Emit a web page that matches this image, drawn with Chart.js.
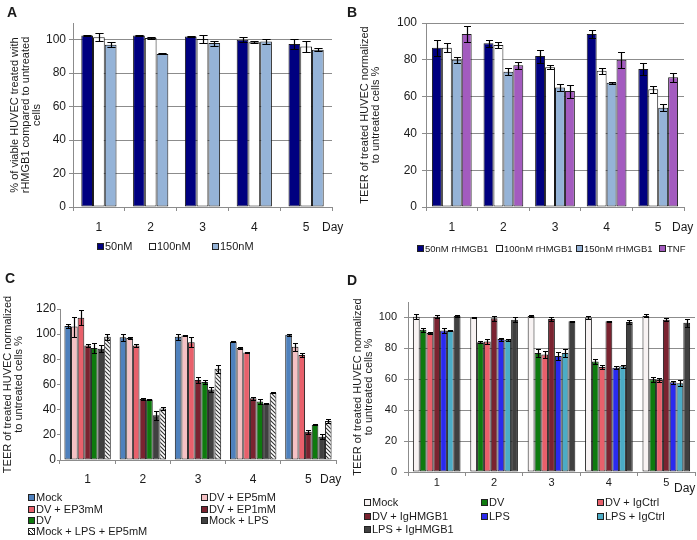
<!DOCTYPE html>
<html>
<head>
<meta charset="utf-8">
<script src="https://cdn.jsdelivr.net/npm/chart.js@4.4.0/dist/chart.umd.min.js"></script>
<style>
body{margin:0;background:#fff;font-family:'Liberation Sans',Arial,sans-serif;color:#1a1a1a}
#page{position:relative;width:697px;height:540px;overflow:hidden}
canvas{position:absolute}
.lbl{position:absolute;font-weight:bold;font-size:14px;line-height:14px}
.day{position:absolute;font-size:12px;line-height:14px}
.leg{position:absolute;font-size:11px;line-height:12px;white-space:nowrap}
.leg i{display:inline-block;width:5px;height:5px;border:1px solid #222;margin-right:1px;vertical-align:0px}
</style>
</head>
<body>
<div id="page">
  <canvas id="chA" width="345" height="270" style="left:0;top:0"></canvas>
  <canvas id="chB" width="352" height="270" style="left:345px;top:0"></canvas>
  <canvas id="chC" width="345" height="270" style="left:0;top:270px"></canvas>
  <canvas id="chD" width="352" height="270" style="left:345px;top:270px"></canvas>
</div>
<script>
// days on the x axis
var days = ['1', '2', '3', '4', '5'];

// A - viability
var viab50 = [102.5, 102.5, 102, 100, 97.5];
var viab50Err = [0.5, 0.5, 0.3, 1.5, 3];
var viab100 = [101.5, 101, 100.5, 98.5, 96];
var viab100Err = [2.5, 0.5, 2.5, 0.5, 3.5];
var viab150 = [97, 91.5, 98, 99, 94];
var viab150Err = [1.5, 0.3, 1.5, 1.5, 1];

// B - TEER with rHMGB1 / TNF
var teer50 = [86.5, 89, 82, 94, 75];
var teer50Err = [4.5, 2, 3.5, 2, 3.5];
var teer100 = [86.5, 88, 76, 74, 64];
var teer100Err = [2.5, 1.5, 1, 1.5, 2];
var teer150 = [80, 73.5, 65, 67.5, 54];
var teer150Err = [1.5, 2, 2, 0.5, 2];
var teerTnf = [94, 77, 63, 80, 70.5];
var teerTnfErr = [4.5, 2, 3.5, 4.5, 2.5];

// C - EP treatment
var cMock = [106.5, 97.5, 98, 94, 99.5];
var cMockErr = [1.5, 3, 2.5, 0.5, 1];
var cEp5 = [106, 97, 99, 89, 90];
var cEp5Err = [8, 1, 0.5, 1, 3];
var cEp3 = [113, 91, 93.5, 85.5, 83.5];
var cEp3Err = [6, 1.5, 4, 0.5, 1.5];
var cEp1 = [91, 48.5, 63.5, 49, 22.5];
var cEp1Err = [1.5, 1, 2.5, 1, 1.5];
var cDv = [89, 48, 62, 46.5, 28];
var cDvErr = [4, 0.5, 1.5, 2, 0.5];
var cLps = [88.5, 35.5, 56, 45, 18.5];
var cLpsErr = [2.5, 3.5, 2, 0.5, 2];
var cLpsEp5 = [98, 41, 72.5, 53.5, 31];
var cLpsEp5Err = [2.5, 1, 3, 0.5, 1.5];

// D - antibodies
var dMock = [100.5, 100, 101, 100, 101];
var dMockErr = [1.5, 0.3, 0.5, 1, 1];
var dDv = [92, 84, 77, 71.5, 60];
var dDvErr = [1.5, 0.5, 2.5, 1.5, 1.5];
var dDvIgC = [90, 84.5, 76, 68, 59.5];
var dDvIgCErr = [0.5, 1.5, 2, 1.5, 1];
var dDvIgH = [100.5, 99.5, 99, 97.5, 98.5];
var dDvIgHErr = [1, 1.5, 1.5, 0.5, 1];
var dLps = [91.5, 86, 75, 67.5, 58];
var dLpsErr = [1.5, 1, 2.5, 1, 1];
var dLpsIgC = [91.5, 85.5, 77, 68.5, 57.5];
var dLpsIgCErr = [0.5, 0.5, 2.5, 1, 2];
var dLpsIgH = [101, 98.5, 97.5, 97, 96.5];
var dLpsIgHErr = [0.5, 1.5, 0.5, 1.5, 2.5];

Chart.defaults.font.family = "'Liberation Sans', Arial, sans-serif";
Chart.defaults.color = '#1a1a1a';

function hatchPattern() {
  var c = document.createElement('canvas');
  c.width = 4; c.height = 4;
  var g = c.getContext('2d');
  g.fillStyle = '#fff';
  g.fillRect(0, 0, 4, 4);
  g.strokeStyle = '#333';
  g.lineWidth = 1.1;
  g.beginPath();
  g.moveTo(0, 0); g.lineTo(4, 4);
  g.moveTo(-1, 3); g.lineTo(1, 5);
  g.moveTo(3, -1); g.lineTo(5, 1);
  g.stroke();
  return g.createPattern(c, 'repeat');
}
var hatch = hatchPattern();
var hatchCss = 'repeating-linear-gradient(45deg,#333 0 1px,#fff 1px 2.5px)';

// error bars drawn from the y scale
var errorBars = {
  id: 'errorBars',
  afterDatasetsDraw: function(chart) {
    var ctx = chart.ctx;
    var ys = chart.scales.y;
    chart.data.datasets.forEach(function(ds, i) {
      if (!ds.errors) return;
      var meta = chart.getDatasetMeta(i);
      meta.data.forEach(function(bar, j) {
        var v = ds.data[j], e = ds.errors[j];
        var top = Math.round(ys.getPixelForValue(v + e)) + 0.5;
        var bot = Math.round(ys.getPixelForValue(v - e)) + 0.5;
        var x = Math.round(bar.x) + 0.5;
        var cap = Math.max(2.5, bar.width * 0.35);
        ctx.save();
        ctx.strokeStyle = '#000';
        ctx.lineWidth = 1.2;
        ctx.beginPath();
        ctx.moveTo(x, top); ctx.lineTo(x, bot);
        ctx.moveTo(x - cap, top); ctx.lineTo(x + cap, top);
        ctx.moveTo(x - cap, bot); ctx.lineTo(x + cap, bot);
        ctx.stroke();
        ctx.restore();
      });
    });
  }
};

function ds(label, data, errors, color) {
  return {label: label, data: data, errors: errors, backgroundColor: color};
}

function makeChart(cfg) {
  var canvas = document.getElementById(cfg.id);
  var W = canvas.width, H = canvas.height;
  return new Chart(canvas, {
    type: 'bar',
    data: {labels: days, datasets: cfg.datasets},
    plugins: [errorBars],
    options: {
      responsive: false,
      animation: false,
      layout: {padding: {left: 0, top: cfg.area.top, right: W - cfg.area.right, bottom: 0}},
      datasets: {bar: {categoryPercentage: cfg.cp, barPercentage: 1, borderWidth: 1, borderColor: '#1a1a1a', borderSkipped: false}},
      plugins: {legend: {display: false}, tooltip: {enabled: false}},
      scales: {
        x: {
          grid: {offset: true, drawOnChartArea: false, tickLength: 4, color: '#8c8c8c'},
          border: {color: '#8c8c8c'},
          ticks: {font: {size: cfg.tickSize}, padding: cfg.xPad, maxRotation: 0},
          afterFit: function(s) { s.height = H - cfg.area.bottom; }
        },
        y: {
          min: 0,
          max: cfg.yMax,
          afterBuildTicks: function(s) { s.ticks = s.ticks.filter(function(t) { return t.value % 20 === 0; }); },
          ticks: {stepSize: 20, font: {size: cfg.tickSize}, padding: cfg.yPad},
          grid: {drawOnChartArea: cfg.grid, tickLength: cfg.yTick, color: '#8c8c8c'},
          border: {color: '#8c8c8c'},
          title: {display: true, text: cfg.title, font: {size: 11, lineHeight: 1}, padding: {top: cfg.titlePad, bottom: 0}},
          afterFit: function(s) { s.width = cfg.area.left; }
        }
      }
    }
  });
}

makeChart({
  id: 'chA', area: {left: 73, right: 332, top: 23, bottom: 207}, yMax: 110, cp: 0.68,
  tickSize: 12, xPad: 9, yPad: 3, yTick: 4, grid: true, titlePad: 9.5,
  title: ['% of viable HUVEC treated with', 'rHMGB1 compared to untreated', 'cells'],
  datasets: [
    ds('50nM', viab50, viab50Err, '#000080'),
    ds('100nM', viab100, viab100Err, '#ffffff'),
    ds('150nM', viab150, viab150Err, '#95b3d7')
  ]
});

makeChart({
  id: 'chB', area: {left: 81, right: 339, top: 23, bottom: 207}, yMax: 100, cp: 0.77,
  tickSize: 12, xPad: 9, yPad: 5, yTick: 4, grid: true, titlePad: 14.5,
  title: ['TEER of treated HUVEC normalized', 'to untreated cells %'],
  datasets: [
    ds('50nM rHMGB1', teer50, teer50Err, '#000080'),
    ds('100nM rHMGB1', teer100, teer100Err, '#ffffff'),
    ds('150nM rHMGB1', teer150, teer150Err, '#95b3d7'),
    ds('TNF', teerTnf, teerTnfErr, '#a35bbf')
  ]
});

makeChart({
  id: 'chC', area: {left: 60, right: 336, top: 39, bottom: 190}, yMax: 120, cp: 0.84,
  tickSize: 12, xPad: 8, yPad: 1, yTick: 3, grid: false, titlePad: 2.5,
  title: ['TEER of treated HUVEC normalized', 'to untreated cells %'],
  datasets: [
    ds('Mock', cMock, cMockErr, '#4f81bd'),
    ds('DV + EP5mM', cEp5, cEp5Err, '#f5c1c4'),
    ds('DV + EP3mM', cEp3, cEp3Err, '#e8606b'),
    ds('DV + EP1mM', cEp1, cEp1Err, '#7a2330'),
    ds('DV', cDv, cDvErr, '#0e7a0e'),
    ds('Mock + LPS', cLps, cLpsErr, '#404040'),
    ds('Mock + LPS + EP5mM', cLpsEp5, cLpsEp5Err, hatch)
  ]
});

makeChart({
  id: 'chD', area: {left: 63, right: 350, top: 32, bottom: 202}, yMax: 110, cp: 0.83,
  tickSize: 11, xPad: 0, yPad: 7, yTick: 4, grid: true, titlePad: 7.5,
  title: ['TEER of treated HUVEC normalized', 'to untreated cells %'],
  datasets: [
    ds('Mock', dMock, dMockErr, '#f8f3f3'),
    ds('DV', dDv, dDvErr, '#0e7a0e'),
    ds('DV + IgCtrl', dDvIgC, dDvIgCErr, '#e8606b'),
    ds('DV + IgHMGB1', dDvIgH, dDvIgHErr, '#7a2330'),
    ds('LPS', dLps, dLpsErr, '#2a2aee'),
    ds('LPS + IgCtrl', dLpsIgC, dLpsIgCErr, '#4bacc6'),
    ds('LPS + IgHMGB1', dLpsIgH, dLpsIgHErr, '#404040')
  ]
});

// html labels, "Day" and legends
var page = document.getElementById('page');
function addDiv(cls, x, y, html, size) {
  var d = document.createElement('div');
  d.className = cls;
  d.style.left = x + 'px';
  d.style.top = y + 'px';
  if (size) d.style.fontSize = size + 'px';
  d.innerHTML = html;
  page.appendChild(d);
}
addDiv('lbl', 7, 5, 'A');
addDiv('lbl', 347, 5, 'B');
addDiv('lbl', 5, 271, 'C');
addDiv('lbl', 347, 273, 'D');
addDiv('day', 322, 220, 'Day');
addDiv('day', 672, 220, 'Day');
addDiv('day', 320, 472, 'Day');
addDiv('day', 674, 481, 'Day');

function legend(chart, cols, rows, size) {
  chart.data.datasets.forEach(function(d, i) {
    var bg = d.backgroundColor === hatch ? hatchCss : d.backgroundColor;
    var x = cols[i % cols.length], y = rows[Math.floor(i / cols.length)];
    addDiv('leg', x, y - 6, '<i style="background:' + bg + '"></i>' + d.label, size);
  });
}
legend(Chart.getChart('chA'), [97, 149, 212], [246], 11);
legend(Chart.getChart('chB'), [417, 496, 576, 659], [249], 9.5);
legend(Chart.getChart('chC'), [28, 201], [497, 509, 520, 531], 11);
legend(Chart.getChart('chD'), [364, 481, 597], [502, 516, 529], 11);
</script>
</body>
</html>
